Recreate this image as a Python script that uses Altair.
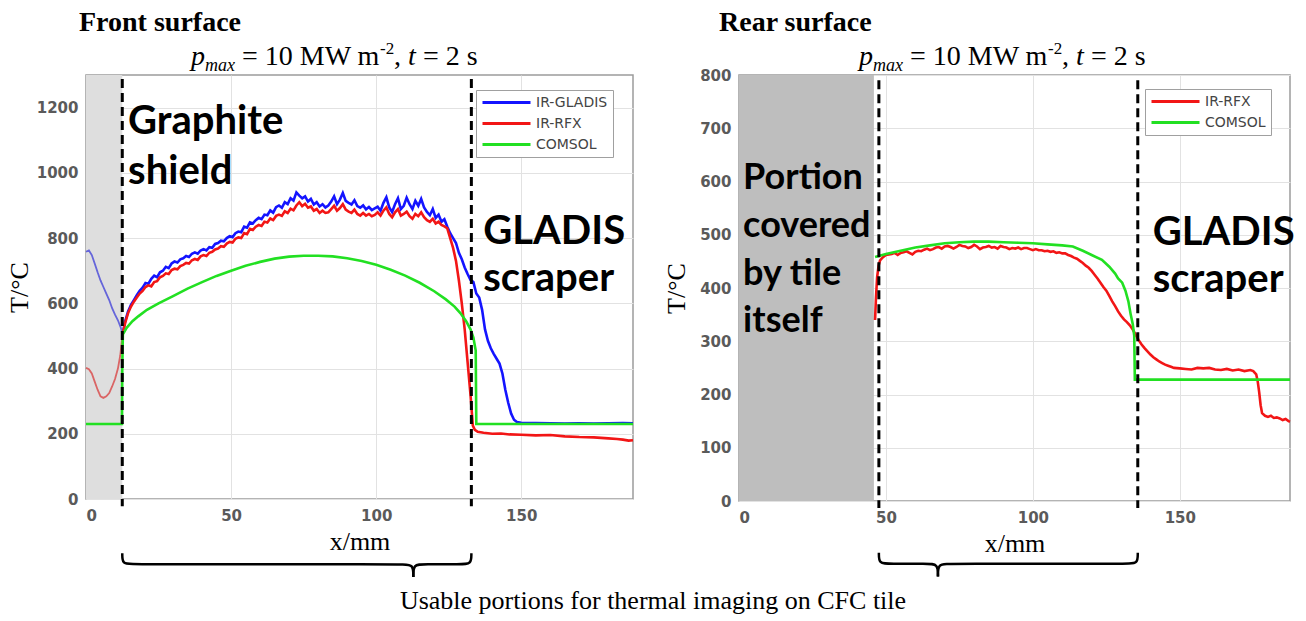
import altair as alt
import pandas as pd

# ---------------- series / colours ----------------
FRONT_SERIES = ["IR-GLADIS", "IR-RFX", "COMSOL"]
FRONT_COLORS = ["#1414ff", "#f21616", "#22e022"]
REAR_SERIES = ["IR-RFX", "COMSOL"]
REAR_COLORS = ["#f21616", "#22e022"]

# ---------------- ticks ----------------
X_TICKS = [0, 50, 100, 150]
FRONT_Y_TICKS = [0, 200, 400, 600, 800, 1000, 1200]
REAR_Y_TICKS = [0, 100, 200, 300, 400, 500, 600, 700, 800]

# ---------------- regions (x / mm) ----------------
FRONT_SHADE = [0, 12.5]
FRONT_BOUNDS = [12.5, 132.8]
REAR_SHADE = [0, 45.9]
REAR_BOUNDS = [47.6, 135.7]

# ---------------- FRONT surface data ----------------
# part of the curves behind the graphite shield (drawn faded)
front_gladis_shield_x = [0, 1, 2, 3, 4, 5, 6, 7, 8, 9, 10, 11, 12, 12.6]
front_gladis_shield_T = [758, 762, 748, 722, 695, 670, 650, 630, 610, 585, 565, 548, 525, 505]
front_rfx_shield_x = [0, 1, 2, 3, 4, 5, 6, 7, 8, 9, 10, 11, 11.8, 12.3, 12.6]
front_rfx_shield_T = [402, 398, 385, 360, 335, 315, 310, 315, 325, 345, 368, 400, 440, 480, 505]

front_gladis_x = [12.6, 13.5, 14.5, 15.5, 16.5, 17.5, 18.5, 19.5, 20.5, 21.5, 22.5, 23.5, 24.5,
                  25.5, 26.5, 27.5, 28.5, 29.5, 30.5, 31.5, 32.5, 33.5, 34.5, 35.5, 36.5, 37.5,
                  38.5, 39.5, 40.5, 41.5, 42.5, 43.5, 44.5, 45.5, 46.5, 47.5, 48.5, 49.5, 50.5,
                  51.5, 52.5, 53.5, 54.5, 55.5, 56.5, 57.5, 58.5, 59.5, 60.5, 61.5, 62.5, 63.5,
                  64.5, 65.5, 66.5, 67.5, 68.5, 69.5, 70.5, 71.5, 72.5, 73.5, 74.5, 75.5, 76.5,
                  77.5, 78.5, 79.5, 80.5, 81.5, 82.5, 83.5, 84.5, 85.5, 86.5, 87.5, 88.5, 89.5,
                  90.5, 91.5, 92.5, 93.5, 94.5, 95.5, 96.5, 97.5, 98.5, 99.5, 100.5, 101.5, 102.5,
                  103.5, 104.5, 105.5, 106.5, 107.5, 108.5, 109.5, 110.5, 111.5, 112.5, 113.5,
                  114.5, 115.5, 116.5, 117.5, 118.5, 119.5, 120.5, 121.5, 122.5, 123.5, 124.5,
                  125.5, 126.5, 127.5, 128.5, 129.5, 130.5, 131.5, 132.5, 133.5, 134.5, 135.5,
                  136.5, 137.5, 138.5, 139.5, 140.5, 141.5, 142.5, 143.5, 144.5, 145.5, 146.5,
                  147.5, 148.5, 150, 155, 160, 165, 170, 175, 180, 185, 188.5]
front_gladis_T = [505, 545, 575, 595, 610, 625, 638, 648, 662, 660, 675, 685, 680,
                  695, 700, 712, 708, 722, 728, 725, 735, 738, 745, 742, 752, 756,
                  752, 762, 766, 762, 772, 770, 782, 785, 792, 790, 800, 806, 803,
                  815, 820, 818, 835, 832, 848, 845, 855, 862, 858, 872, 870, 885,
                  878, 895, 900, 893, 910, 904, 922, 915, 940, 930, 922, 928, 912,
                  920, 903, 910, 897, 904, 894, 900, 912, 928, 904, 918, 938, 914,
                  908, 903, 916, 898, 893, 900, 888, 895, 886, 891, 896, 884, 908,
                  925, 894, 880, 904, 922, 889, 899, 924, 904, 889,
                  914, 899, 920, 894, 880, 870, 889, 862, 872, 850, 858, 835,
                  815, 800, 785, 755, 735, 710, 690, 672, 665, 630, 618,
                  580, 520, 485, 462, 445, 430, 415, 385, 335, 295, 262,
                  243, 236, 234, 233, 232, 231, 232, 231, 232, 233, 232]

front_rfx_x = [12.6, 13.5, 14.5, 15.5, 16.5, 17.5, 18.5, 19.5, 20.5, 21.5, 22.5, 23.5, 24.5,
               25.5, 26.5, 27.5, 28.5, 29.5, 30.5, 31.5, 32.5, 33.5, 34.5, 35.5, 36.5, 37.5,
               38.5, 39.5, 40.5, 41.5, 42.5, 43.5, 44.5, 45.5, 46.5, 47.5, 48.5, 49.5, 50.5,
               51.5, 52.5, 53.5, 54.5, 55.5, 56.5, 57.5, 58.5, 59.5, 60.5, 61.5, 62.5, 63.5,
               64.5, 65.5, 66.5, 67.5, 68.5, 69.5, 70.5, 71.5, 72.5, 73.5, 74.5, 75.5, 76.5,
               77.5, 78.5, 79.5, 80.5, 81.5, 82.5, 83.5, 84.5, 85.5, 86.5, 87.5, 88.5, 89.5,
               90.5, 91.5, 92.5, 93.5, 94.5, 95.5, 96.5, 97.5, 98.5, 99.5, 100.5, 101.5, 102.5,
               103.5, 104.5, 105.5, 106.5, 107.5, 108.5, 109.5, 110.5, 111.5, 112.5, 113.5,
               114.5, 115.5, 116.5, 117.5, 118.5, 119.5, 120.5, 121.5, 122.5, 123.5, 124.5,
               125.5, 126.5, 127.5, 128.5, 129.5, 130.5, 131.5, 132.5, 133.3, 134, 135,
               137, 140, 143, 146, 150, 155, 160, 165, 170, 175, 180, 183, 185, 187, 188.5]
front_rfx_T = [505, 540, 570, 590, 605, 618, 630, 638, 650, 655, 652, 665, 668,
               680, 684, 692, 690, 702, 706, 704, 714, 718, 724, 722, 732, 736,
               733, 744, 748, 745, 755, 758, 765, 768, 775, 773, 783, 788, 786,
               798, 802, 800, 815, 812, 828, 825, 835, 840, 837, 850, 848, 860,
               855, 868, 872, 868, 882, 877, 890, 885, 900, 910, 898, 905, 893,
               897, 884, 889, 877, 884, 877, 879, 889, 899, 884, 892, 904, 887,
               881, 877, 887, 874, 869, 877, 869, 874, 867, 871, 879, 869, 884,
               894, 874, 864, 879, 889, 869, 874, 881, 867, 859,
               874, 867, 879, 864, 855, 850, 859, 845, 850, 840, 836, 830,
               800, 770, 730, 670, 600, 520, 420, 320, 225, 212, 206,
               203, 200, 201, 198, 197, 195, 196, 192, 190, 189, 186, 184, 182, 179, 180]

front_comsol_x = [0, 12.4, 12.5, 12.7, 14, 16, 18, 21, 25, 30, 35, 40, 45, 50, 55, 60, 65, 70,
                  75, 80, 85, 90, 95, 100, 105, 110, 115, 120, 124, 127, 129, 131, 132.5,
                  133.5, 134.3, 134.5, 135, 150, 170, 188.5]
front_comsol_T = [230, 230, 400, 505, 525, 545, 560, 580, 600, 622, 645, 665, 684, 700, 715,
                  727, 737, 743, 746, 746, 744, 738, 730, 718, 703, 685, 663, 637, 612, 590,
                  570, 545, 520, 495, 455, 230, 230, 230, 230, 230]

# ---------------- REAR surface data ----------------
rear_rfx_x = [46.3, 46.6, 47, 47.5, 48,
              49, 50, 51, 52, 53, 54, 55, 56, 57, 58,
              59, 60, 61, 62, 63, 64, 65, 66, 67, 68,
              69, 70, 71, 72, 73, 74, 75, 76, 77, 78,
              79, 80, 81, 82, 83, 84, 85, 86, 87, 88,
              89, 90, 91, 92, 93, 94, 95, 96, 97, 98,
              99, 100, 101, 102, 103, 104, 105, 106, 107, 108,
              109, 110, 111, 112, 113, 114, 115, 116, 117, 118,
              119, 120, 121, 122, 123, 124, 125, 126, 127, 128,
              129, 130, 131, 132, 133, 134, 135, 136, 137, 138,
              139, 140, 141, 142, 143, 144, 145, 146, 147, 148,
              150, 152, 154, 156, 158, 160, 162, 164, 166, 168, 170, 172, 174,
              175, 176, 176.5, 177, 177.5, 178,
              179, 180, 181, 182, 183, 184, 185, 186, 187,
              187.5]
rear_rfx_T = [340, 380, 420, 442, 452,
              458, 462, 463, 464, 466, 462, 466, 467, 469, 466,
              463, 468, 470, 469, 472, 474, 471, 473, 476, 477,
              474, 478, 479, 477, 474, 477, 481, 479, 478, 475,
              477, 481, 478, 473, 476, 477, 479, 476, 477, 474,
              479, 477, 476, 473, 475, 474, 476, 473, 475, 475,
              473, 471, 473, 471, 471, 469, 470, 468, 469, 466,
              467, 465, 465, 462, 460, 457, 455, 451, 447, 442,
              438, 432, 425, 418, 410, 402, 395, 385, 375, 366,
              356, 348, 341, 336, 330, 322, 312, 302, 294, 287,
              281, 275, 270, 266, 262, 259, 256, 254, 252, 250,
              249, 248, 247, 250, 249, 250, 247, 246, 248, 245, 247, 244, 246,
              244, 238, 225, 205, 180, 165,
              160, 158, 160, 156, 157, 155, 152, 154, 150,
              149]

rear_comsol_x = [46.3, 50, 55, 60, 65, 70, 75, 80, 85, 90, 95, 100, 105, 110, 113.6, 117, 120,
                 123.5, 126, 128, 129, 130.4, 131.5, 132.5, 133.3, 134, 134.5, 134.7, 140, 160,
                 187.5]
rear_comsol_T = [458, 464, 470, 476, 480, 484, 486, 487, 487, 486, 485, 484, 482, 480, 478, 470,
                 462, 453, 440, 427, 418, 410, 395, 375, 350, 332, 310, 228, 228, 228, 228]

# ---------------- texts ----------------
FRONT_TITLE = "Front surface"
REAR_TITLE = "Rear surface"
CAPTION = "Usable portions for thermal imaging on CFC tile"
X_TITLE = "x/mm"
Y_TITLE = "T/°C"
front_labels = pd.DataFrame({"x": [14.5, 14.5, 136.9, 136.9],
                             "T": [1120, 967, 783, 638],
                             "label": ["Graphite", "shield", "GLADIS", "scraper"]})
rear_labels_a = pd.DataFrame({"x": [1.4, 1.4, 1.4, 1.4],
                              "T": [586, 495, 406, 318],
                              "label": ["Portion", "covered", "by tile", "itself"]})
rear_labels_b = pd.DataFrame({"x": [140.8, 140.8], "T": [481, 393],
                              "label": ["GLADIS", "scraper"]})

ONE = pd.DataFrame({"_": [0]})


def line_df(name, xs, ts):
    return pd.DataFrame({"x": xs, "T": ts, "series": name, "i": list(range(len(xs)))})


def brace_df(x0, x1, xtip, top, mid, tip, r):
    xs = [x0, x0, x0 + r, xtip - r, xtip, xtip,
          xtip, xtip, xtip + r, x1 - r, x1, x1]
    ts = [top, mid, mid, mid, mid, tip,
          tip, mid, mid, mid, mid, top]
    part = ["a"] * 6 + ["b"] * 6
    return pd.DataFrame({"x": xs, "T": ts, "part": part, "i": list(range(12))})


def subtitle_layers(x0, y0):
    serif = "Liberation Serif"
    pieces = [  # (text, dx, dy, size, style)
        ("p", 0, 0, 28, "italic"),
        ("max", 14, 6, 18, "italic"),
        ("= 10 MW m", 51, 0, 28, "normal"),
        ("-2", 189, -11, 17, "normal"),
        (",", 203, 0, 28, "normal"),
        ("t", 217, 0, 28, "italic"),
        ("= 2 s", 232, 0, 28, "normal"),
    ]
    out = []
    for text, dx, dy, size, style in pieces:
        out.append(alt.Chart(ONE).mark_text(align="left", baseline="alphabetic", font=serif,
                                            fontSize=size, fontStyle=style, color="black")
                   .encode(x=alt.value(x0 + dx), y=alt.value(y0 + dy), text=alt.value(text)))
    return out


def panel(lines, faded, shade, bounds, dash_top, dash_bot, xmax, ydom, yticks, series, colors,
          legend_xy, labels, brace, title, title_x, sub_x, shade_color, ytitle_pad, extra,
          width, height):
    xscale = alt.Scale(domain=[0, xmax], nice=False, zero=False)
    yscale = alt.Scale(domain=ydom, nice=False, zero=False)
    xaxis = alt.Axis(values=X_TICKS, title=X_TITLE, labelPadding=9, titlePadding=5)
    yaxis = alt.Axis(values=yticks, title=Y_TITLE, format="d", labelPadding=8,
                     titlePadding=ytitle_pad)

    def X(**kw):
        return alt.X(scale=xscale, axis=xaxis, **kw)

    def Y(**kw):
        return alt.Y(scale=yscale, axis=yaxis, **kw)

    layers = []
    layers.append(alt.Chart(ONE).mark_rect(color=shade_color).encode(
        x=X(datum=shade[0], type="quantitative"), x2=alt.X2(datum=shade[1]),
        y=Y(datum=ydom[0], type="quantitative"), y2=alt.Y2(datum=ydom[1])))
    for df, col in faded:
        layers.append(alt.Chart(df).mark_line(strokeWidth=1.8, color=col, opacity=0.75).encode(
            x=X(field="x", type="quantitative"), y=Y(field="T", type="quantitative"),
            order="i:Q"))
    layers.append(alt.Chart(lines).mark_line(strokeWidth=2.6).encode(
        x=X(field="x", type="quantitative"), y=Y(field="T", type="quantitative"),
        color=alt.Color("series:N", scale=alt.Scale(domain=series, range=colors),
                        legend=alt.Legend(title=None, orient="none", legendX=legend_xy[0],
                                          legendY=legend_xy[1], symbolType="M-1,0H7",
                                          symbolSize=144, symbolStrokeWidth=3,
                                          labelFont="DejaVu Sans", labelFontSize=14,
                                          labelColor="#444444", strokeColor="#a0a0a0",
                                          fillColor="white", padding=5, rowPadding=6,
                                          labelOffset=40)),
        order="i:Q"))
    layers.append(alt.Chart(pd.DataFrame({"x": bounds})).mark_rule(
        strokeDash=[9, 5], strokeWidth=3, color="black").encode(
        x=X(field="x", type="quantitative"),
        y=Y(datum=dash_top, type="quantitative"), y2=alt.Y2(datum=dash_bot)))
    for df, size in labels:
        layers.append(alt.Chart(df).mark_text(align="left", baseline="alphabetic", font="Lato",
                                              fontWeight="bold", fontSize=size, color="black")
                      .encode(x=X(field="x", type="quantitative"),
                              y=Y(field="T", type="quantitative"), text="label:N"))
    layers.append(alt.Chart(brace).mark_line(strokeWidth=2.5, color="black",
                                             interpolate="basis").encode(
        x=X(field="x", type="quantitative"), y=Y(field="T", type="quantitative"),
        detail="part:N", order="i:Q"))
    layers.append(alt.Chart(ONE).mark_text(align="left", baseline="alphabetic",
                                           font="Liberation Serif", fontWeight="bold",
                                           fontSize=28, color="black").encode(
        x=alt.value(title_x), y=alt.value(-44), text=alt.value(title)))
    layers += subtitle_layers(sub_x, -10)
    layers += extra
    return alt.layer(*layers).properties(width=width, height=height)


front_lines = pd.concat([line_df("IR-GLADIS", front_gladis_x, front_gladis_T),
                         line_df("IR-RFX", front_rfx_x, front_rfx_T),
                         line_df("COMSOL", front_comsol_x, front_comsol_T)])
front_faded = [(line_df("IR-GLADIS", front_gladis_shield_x, front_gladis_shield_T), "#3c3cd8"),
               (line_df("IR-RFX", front_rfx_shield_x, front_rfx_shield_T), "#d83c3c")]
rear_lines = pd.concat([line_df("IR-RFX", rear_rfx_x, rear_rfx_T),
                        line_df("COMSOL", rear_comsol_x, rear_comsol_T)])

anchor = alt.Chart(ONE).mark_rect(opacity=0).encode(
    x=alt.value(-85), x2=alt.value(-84), y=alt.value(-74), y2=alt.value(-73))
caption = alt.Chart(ONE).mark_text(align="center", baseline="alphabetic",
                                   font="Liberation Serif", fontSize=26, color="black").encode(
    x=alt.value(567), y=alt.value(534), text=alt.value(CAPTION))

left = panel(front_lines, front_faded, FRONT_SHADE, FRONT_BOUNDS, 1288, -22, 188.5, [0, 1300],
             FRONT_Y_TICKS, FRONT_SERIES, FRONT_COLORS, (390, 15),
             [(front_labels, 40)],
             brace_df(FRONT_BOUNDS[0], FRONT_BOUNDS[1], 112.8, -166, -200, -239, 3.5),
             FRONT_TITLE, -7, 105, "#dedede", 4, [anchor, caption], 547, 424)

right = panel(rear_lines, [], REAR_SHADE, REAR_BOUNDS, 790, -13, 187.5, [0, 800],
              REAR_Y_TICKS, REAR_SERIES, REAR_COLORS, (406, 14),
              [(rear_labels_a, 36), (rear_labels_b, 40)],
              brace_df(REAR_BOUNDS[0], REAR_BOUNDS[1], 67.7, -97, -118, -142, 3.5),
              REAR_TITLE, -20, 120, "#bebebe", 10, [], 551, 426)

chart = alt.hconcat(left, right, spacing=106, bounds="flush", padding=0).resolve_scale(
    x="independent", y="independent", color="independent"
).configure_view(stroke="#9c9c9c", strokeWidth=1.5).configure_axis(
    domain=False, ticks=False, grid=True, gridColor="#e2e2e2", gridWidth=1,
    labelFont="DejaVu Sans", labelFontSize=15, labelFontWeight="bold", labelColor="#5a5a5a",
    titleFont="Liberation Serif", titleFontSize=26, titleFontWeight="normal", titleColor="black"
)

chart.save("out.html", embed_options={"renderer": "svg", "actions": False})
